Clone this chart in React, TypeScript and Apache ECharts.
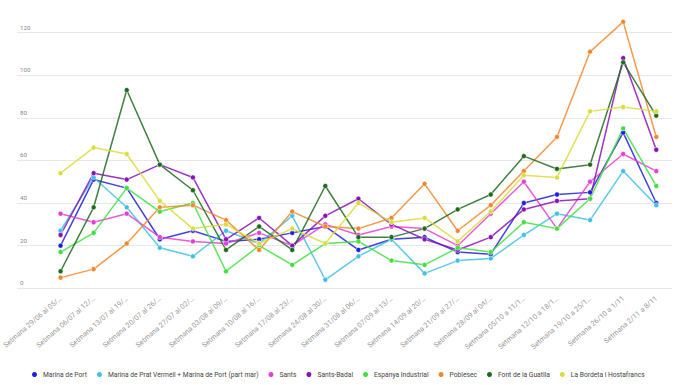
import React, { useEffect, useRef } from "react";
import * as echarts from "echarts";

const categories = [
  "Setmana 29/06 al 05/07",
  "Setmana 06/07 al 12/07",
  "Setmana 13/07 al 19/07",
  "Setmana 20/07 al 26/07",
  "Setmana 27/07 al 02/08",
  "Setmana 03/08 al 09/08",
  "Setmana 10/08 al 16/08",
  "Setmana 17/08 al 23/08",
  "Setmana 24/08 al 30/08",
  "Setmana 31/08 al 06/09",
  "Setmana 07/09 al 13/09",
  "Setmana 14/09 al 20/09",
  "Setmana 21/09 al 27/09",
  "Setmana 28/09 al 04/10",
  "Setmana 05/10 a 11/10",
  "Setmana 12/10 a 18/10",
  "Setmana 19/10 a 25/10",
  "Setmana 26/10 a 1/11",
  "Setmana 2/11 a 8/11",
];

const marinaDePort = [20, 51, 47, 23, 27, 22, 23, 26, 29, 18, 23, 24, 17, 16, 40, 44, 45, 73, 40];
const marinaDePrat = [27, 52, 38, 19, 15, 27, 21, 34, 4, 15, 23, 7, 13, 14, 25, 35, 32, 55, 39];
const sants = [35, 31, 35, 24, 22, 21, 26, 20, 30, 25, 29, 28, 20, 35, 50, 28, 50, 63, 55];
const santsBadal = [25, 54, 51, 58, 52, 23, 33, 20, 34, 42, 30, 23, 18, 24, 37, 41, 42, 108, 65];
const espanyaIndustrial = [17, 26, 47, 36, 40, 8, 20, 11, 21, 22, 13, 11, 19, 17, 31, 28, 42, 75, 48];
const poblesec = [5, 9, 21, 38, 39, 32, 18, 36, 29, 28, 33, 49, 27, 39, 55, 71, 111, 125, 71];
const fontDeLaGuatlla = [8, 38, 93, 58, 46, 18, 29, 18, 48, 24, 24, 28, 37, 44, 62, 56, 58, 106, 81];
const laBordeta = [54, 66, 63, 41, 28, 30, 21, 28, 21, 40, 31, 33, 22, 36, 53, 52, 83, 85, 83];

const seriesNames = [
  "Marina de Port",
  "Marina de Prat Vermell + Marina de Port (part mar)",
  "Sants",
  "Sants-Badal",
  "Espanya Industrial",
  "Poblesec",
  "Font de la Guatlla",
  "La Bordeta i Hostafrancs",
];
const seriesData = [
  marinaDePort,
  marinaDePrat,
  sants,
  santsBadal,
  espanyaIndustrial,
  poblesec,
  fontDeLaGuatlla,
  laBordeta,
];
const colors = [
  "#2020d8",
  "#3fc0e4",
  "#e43ed4",
  "#8a12b8",
  "#3fe03f",
  "#f0882a",
  "#1e6b1e",
  "#dadc3c",
];

const yTicks = [0, 20, 40, 60, 80, 100, 120];

export default function App() {
  const ref = useRef<HTMLDivElement>(null);
  useEffect(() => {
    if (!ref.current) return;
    const chart = echarts.init(ref.current, null, { renderer: "svg" });
    const top = 32.5;
    const bottom = 385 - 288.3;
    const option: any = {
      animation: false,
      color: colors,
      textStyle: { fontFamily: "Roboto" },
      grid: [
        { left: 17, right: 24, top, bottom },
        { left: 35, right: 23.2, top, bottom },
      ],
      legend: {
        top: 365,
        left: 25,
        icon: "circle",
        itemWidth: 7,
        itemHeight: 7,
        itemGap: 8,
        textStyle: { fontSize: 6.7, color: "#444", fontFamily: "Roboto" },
        data: seriesNames,
      },
      xAxis: [
        {
          type: "category",
          gridIndex: 0,
          data: categories,
          show: false,
        },
        {
          type: "category",
          gridIndex: 1,
          data: categories,
          boundaryGap: true,
          axisLine: { show: false },
          axisTick: { show: false },
          axisLabel: {
            rotate: 41,
            margin: 9,
            fontSize: 7.2,
            color: "#999",
            interval: 0,
            formatter: (v: string) => (v.length > 20 ? v.slice(0, 20) + "…" : v),
          },
        },
      ],
      yAxis: [
        {
          type: "value",
          gridIndex: 0,
          min: yTicks[0],
          max: yTicks[yTicks.length - 1],
          interval: 20,
          axisLine: { show: false },
          axisTick: { show: false },
          splitLine: { lineStyle: { color: "#e8e8e8", width: 1 } },
          axisLabel: {
            inside: true,
            margin: 3,
            fontSize: 6.2,
            color: "#888",
            verticalAlign: "bottom",
            padding: [0, 0, 2, 0],
          },
        },
        {
          type: "value",
          gridIndex: 1,
          min: 0,
          max: 120,
          interval: 20,
          show: false,
          splitLine: { show: false },
        },
      ],
      series: seriesNames.map((name, i) => ({
        name,
        type: "line",
        xAxisIndex: 1,
        yAxisIndex: 1,
        data: seriesData[i],
        clip: false,
        symbol: "circle",
        symbolSize: 5,
        lineStyle: { width: 1.5, opacity: 0.85 },
        itemStyle: { color: colors[i], borderColor: "#fff", borderWidth: 0.5 },
      })),
    };
    chart.setOption(option);
    return () => chart.dispose();
  }, []);
  return (
    <div
      ref={ref}
      style={{ position: "absolute", left: 0, top: 0, width: 696, height: 385, background: "#fff" }}
    />
  );
}
